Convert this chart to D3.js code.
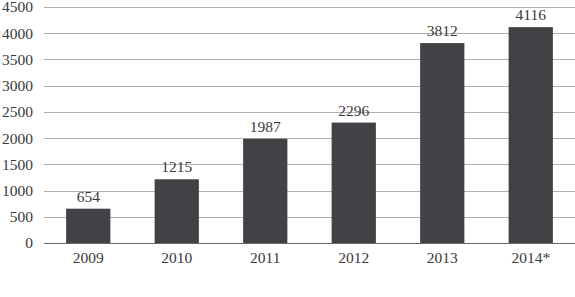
<!DOCTYPE html>
<html>
<head>
<meta charset="utf-8">
<script src="https://cdn.jsdelivr.net/npm/d3@7"></script>
<style>
body { margin: 0; background: #fff; }
text { font-family: "Liberation Serif", "Times New Roman", serif; fill: #3a3a3a; }
</style>
</head>
<body>
<div id="container"></div>
<script>
var years = ["2009", "2010", "2011", "2012", "2013", "2014*"];
var values = [654, 1215, 1987, 2296, 3812, 4116];
var yTicks = [0, 500, 1000, 1500, 2000, 2500, 3000, 3500, 4000, 4500];

var width = 575, height = 297;
var plotLeft = 44, plotRight = 575, plotTop = 7, plotBottom = 243;
var fontSize = 15.5;

var xScale = d3.scaleBand().domain(years).range([plotLeft, plotRight]).paddingInner(0.5).paddingOuter(0.25);
var yScale = d3.scaleLinear().domain([0, 4500]).range([plotBottom, plotTop]);

var svg = d3.select('#container').append('svg')
	.attr('width', width)
	.attr('height', height);

// grid lines
svg.append('g').selectAll('line').data(yTicks.slice(1)).enter()
	.append('line')
	.attr('x1', plotLeft).attr('x2', plotRight)
	.attr('y1', function(d){ return Math.round(yScale(d)) + 0.5; })
	.attr('y2', function(d){ return Math.round(yScale(d)) + 0.5; })
	.attr('stroke', '#b0b0b0')
	.attr('stroke-width', 1);

// y tick labels
svg.append('g').selectAll('text').data(yTicks).enter()
	.append('text')
	.attr('x', 33)
	.attr('y', function(d){ return yScale(d); })
	.attr('dy', '0.35em')
	.attr('text-anchor', 'end')
	.attr('font-size', fontSize)
	.text(function(d){ return d; });

// bars
svg.append('g').selectAll('rect').data(values).enter()
	.append('rect')
	.attr('x', function(d, i){ return xScale(years[i]); })
	.attr('y', function(d){ return yScale(d); })
	.attr('width', xScale.bandwidth())
	.attr('height', function(d){ return plotBottom - yScale(d); })
	.attr('fill', '#414146');

// value labels
svg.append('g').selectAll('text').data(values).enter()
	.append('text')
	.attr('x', function(d, i){ return xScale(years[i]) + xScale.bandwidth() / 2; })
	.attr('y', function(d){ return yScale(d) - 7; })
	.attr('text-anchor', 'middle')
	.attr('font-size', fontSize)
	.text(function(d){ return d; });

// baseline axis
svg.append('line')
	.attr('x1', plotLeft).attr('x2', plotRight)
	.attr('y1', plotBottom + 0.5).attr('y2', plotBottom + 0.5)
	.attr('stroke', '#666')
	.attr('stroke-width', 1);

// x labels
svg.append('g').selectAll('text').data(years).enter()
	.append('text')
	.attr('x', function(d){ return xScale(d) + xScale.bandwidth() / 2; })
	.attr('y', 263)
	.attr('text-anchor', 'middle')
	.attr('font-size', fontSize)
	.text(function(d){ return d; });
</script>
</body>
</html>
